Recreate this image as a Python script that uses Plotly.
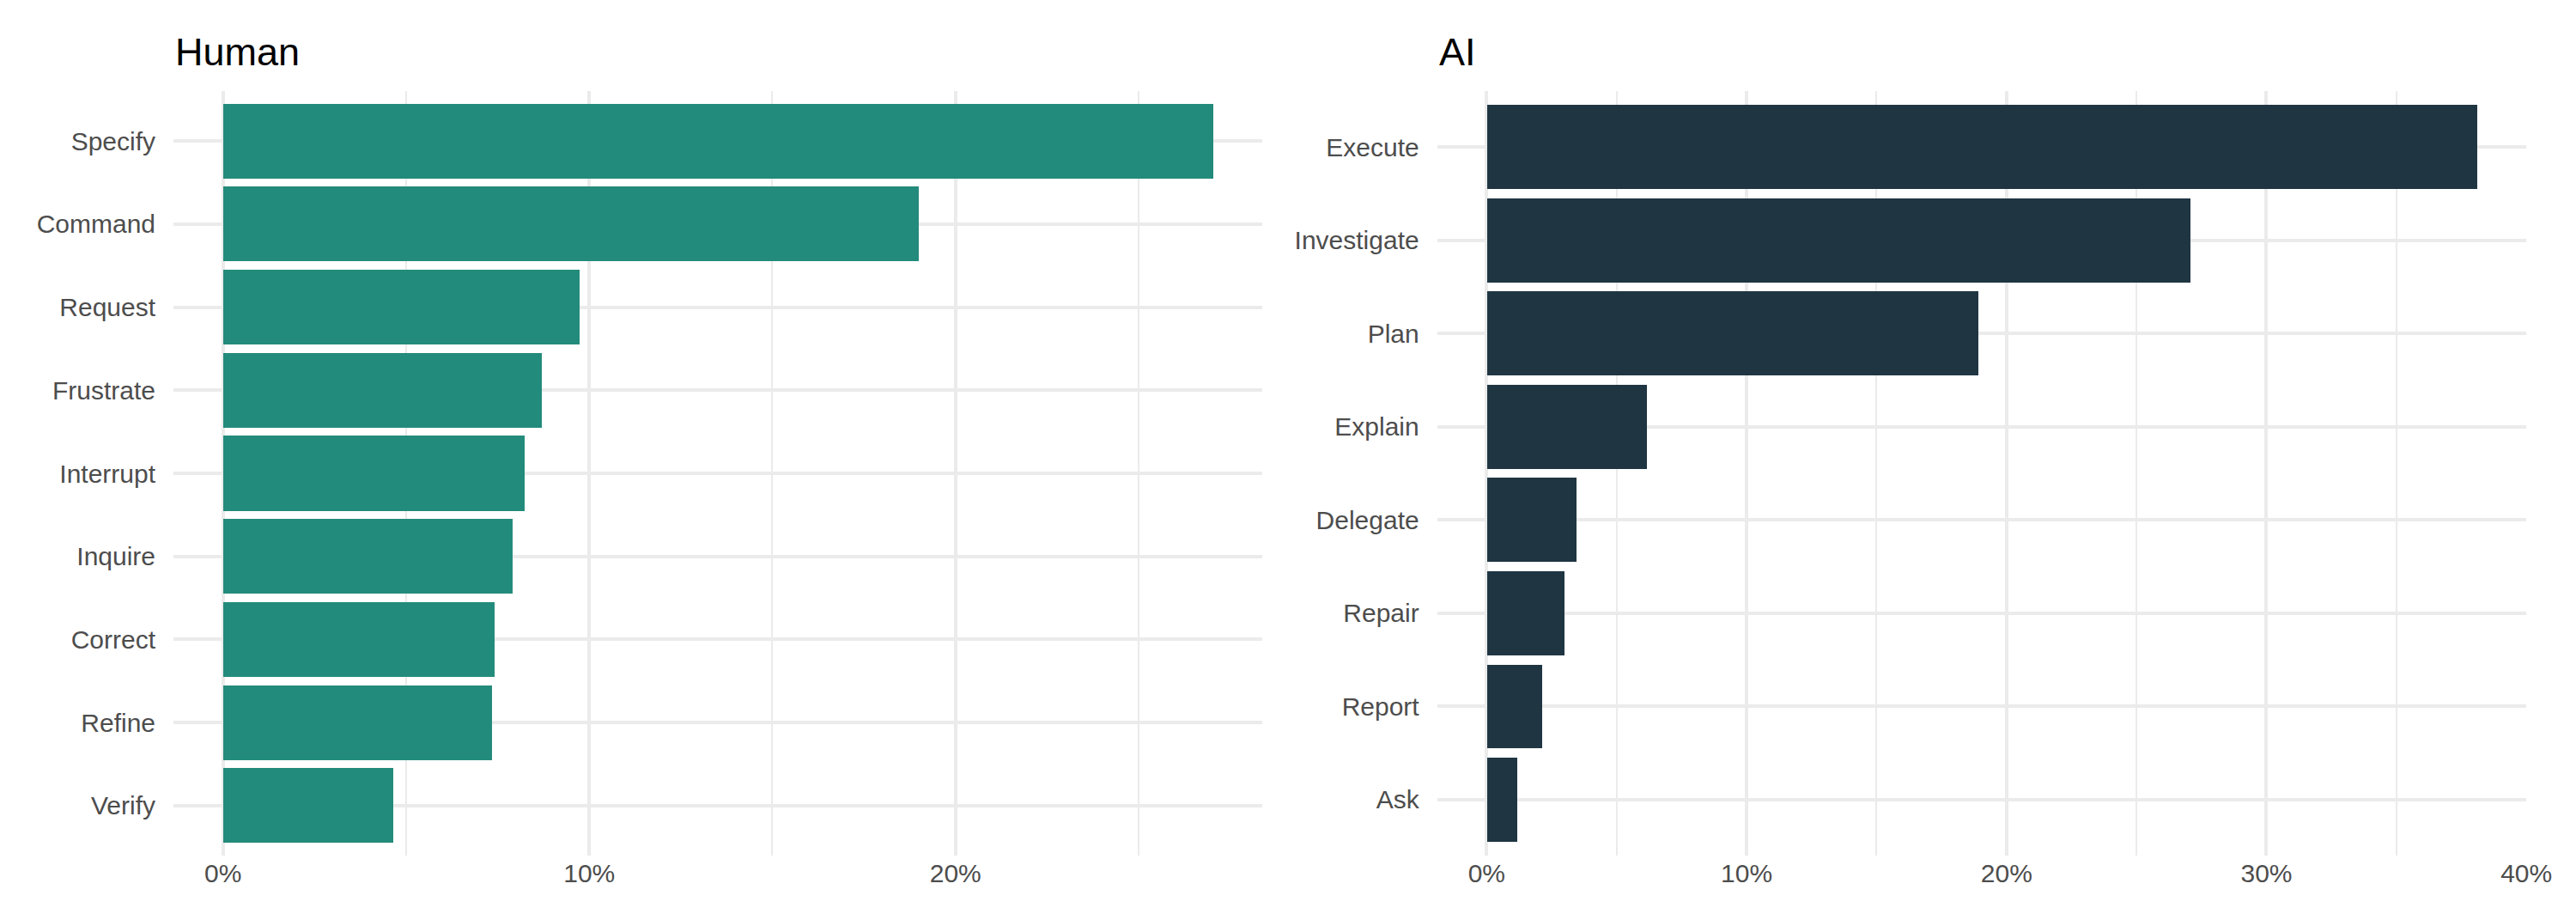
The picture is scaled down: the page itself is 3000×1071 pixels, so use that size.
import plotly.graph_objects as go
from plotly.subplots import make_subplots

# data (share of turns, %)
human_acts = ['Specify', 'Command', 'Request', 'Frustrate', 'Interrupt',
              'Inquire', 'Correct', 'Refine', 'Verify']
human_share = [27.03, 19.01, 9.74, 8.70, 8.24, 7.90, 7.41, 7.35, 4.64]

ai_acts = ['Execute', 'Investigate', 'Plan', 'Explain', 'Delegate',
           'Repair', 'Report', 'Ask']
ai_share = [38.1, 27.08, 18.92, 6.14, 3.44, 3.0, 2.11, 1.16]

panel_titles = ['Human', 'AI']

W, H = 3000, 1071
FONT = 'Liberation Sans, Arial, Helvetica, sans-serif'
GRID = '#EBEBEB'
TEXT = '#4D4D4D'

fig = make_subplots(rows=1, cols=2)

fig.add_trace(go.Bar(x=human_share, y=human_acts, orientation='h', width=0.9,
                     marker=dict(color='#238B7B', line=dict(width=0)),
                     showlegend=False), row=1, col=1)
fig.add_trace(go.Bar(x=ai_share, y=ai_acts, orientation='h', width=0.9,
                     marker=dict(color='#1F3642', line=dict(width=0)),
                     showlegend=False), row=1, col=2)

# panel placement in pixels (left, right), shared top/bottom
left_px = [(196, 1477), (1682.5, 2964)]
top_px, bottom_px = 98, 988
ydom = [(H - bottom_px) / H, (H - top_px) / H]

for i, (vals, cats) in enumerate([(human_share, human_acts), (ai_share, ai_acts)]):
    n = i + 1
    vmax = max(vals)
    fig.update_xaxes(
        domain=[left_px[i][0] / W, left_px[i][1] / W],
        range=[-0.05 * vmax, 1.05 * vmax],
        tick0=0, dtick=10, ticksuffix='%',
        showgrid=True, gridcolor=GRID, gridwidth=3.6,
        zeroline=False, showline=False,
        ticks='',
        tickfont=dict(family=FONT, size=30, color=TEXT),
        minor=dict(dtick=5, tick0=0, showgrid=True, gridcolor=GRID, gridwidth=1.9),
        row=1, col=n)
    fig.update_yaxes(
        domain=ydom,
        type='category', categoryorder='array', categoryarray=cats,
        range=[len(cats) - 0.4, -0.6],
        showgrid=True, gridcolor=GRID, gridwidth=3.6,
        zeroline=False, showline=False,
        ticks='outside', ticklen=14, tickcolor='rgba(0,0,0,0)',
        tickfont=dict(family=FONT, size=30, color=TEXT),
        row=1, col=n)
    fig.add_annotation(text=panel_titles[i], xref='paper', yref='paper',
                       x=left_px[i][0] / W, y=(H - 80) / H,
                       xanchor='left', yanchor='bottom', showarrow=False,
                       font=dict(family=FONT, size=45, color='black'))

fig.update_layout(
    width=W, height=H,
    margin=dict(l=0, r=0, t=0, b=0),
    paper_bgcolor='white', plot_bgcolor='white',
    bargap=0,
)

fig.write_html('out.html')
